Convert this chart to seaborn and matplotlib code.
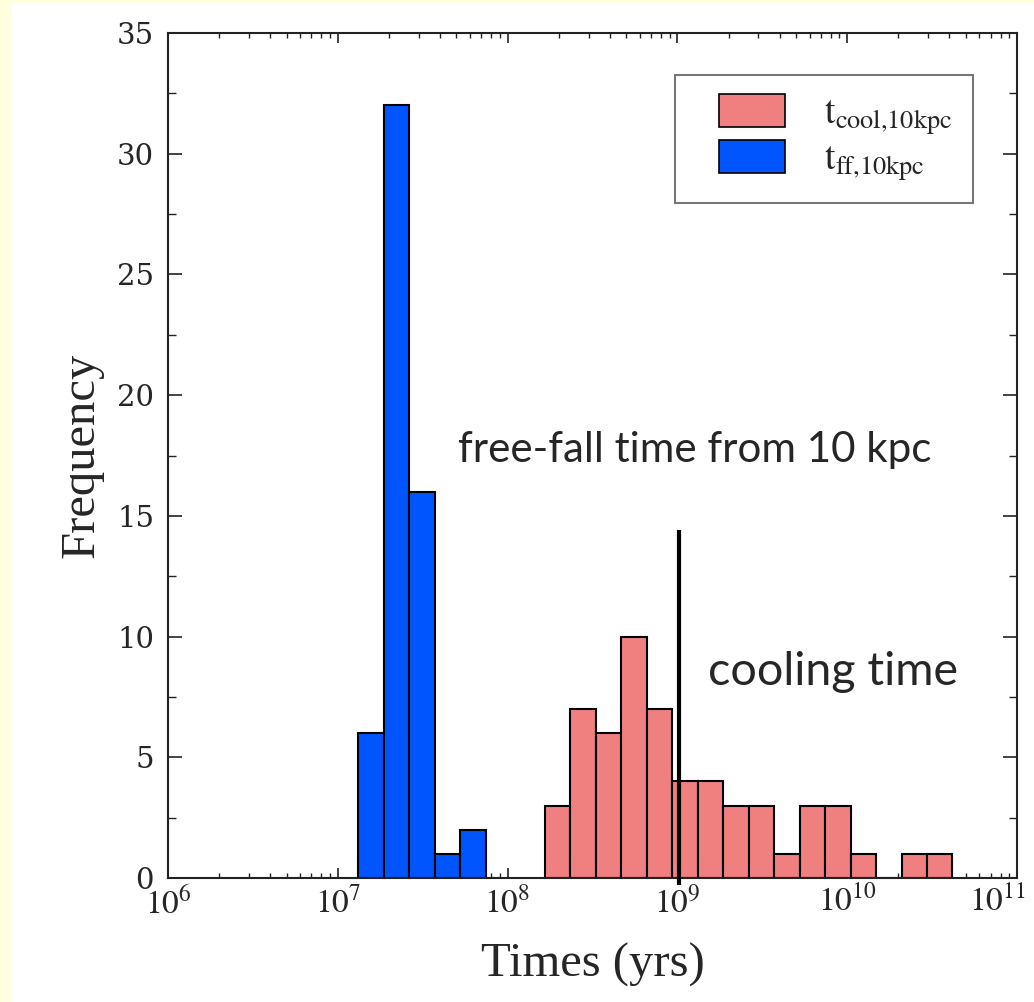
import numpy as np
import matplotlib
matplotlib.use("Agg")
import matplotlib.pyplot as plt
import matplotlib.transforms as mtransforms
import seaborn as sns
from matplotlib.patches import Rectangle, Patch
from matplotlib.legend_handler import HandlerPatch
from matplotlib.ticker import MultipleLocator, LogLocator, NullFormatter

# ---- data (log10 of time in yr for bin edges, counts per bin) ----
ff_edges_log = [7.12, 7.27, 7.42, 7.57, 7.72, 7.87]
ff_counts = [6, 32, 16, 1, 2]

cool_edges_log = [8.22, 8.37, 8.52, 8.67, 8.82, 8.97, 9.12, 9.27, 9.42,
                  9.57, 9.72, 9.87, 10.02, 10.17, 10.32, 10.47, 10.62]
cool_counts = [3, 7, 6, 10, 7, 4, 4, 3, 3, 1, 3, 3, 1, 0, 1, 1]

x_tick_values = [1e6, 1e7, 1e8, 1e9, 1e10, 1e11]
x_tick_labels = [r"$10^{6}$", r"$10^{7}$", r"$10^{8}$", r"$10^{9}$", r"$10^{10}$", r"$10^{11}$"]
y_tick_values = [0, 5, 10, 15, 20, 25, 30, 35]

cooling_time_marker = 1.02e9
legend_labels = [r"$\mathrm{t}_{\mathrm{cool{,}10kpc}}\enspace$", r"$\mathrm{t}_{\mathrm{ff{,}10kpc}}$"]
x_label = "Times (yrs)"
y_label = "Frequency"
ann_ff = "free-fall time from 10 kpc"
ann_cool = "cooling time"

pink = "#F08080"
blue = "#0055FF"

sns.set_style("ticks")
plt.rcParams["mathtext.fontset"] = "stix"
plt.rcParams["font.family"] = ["DejaVu Serif"]

fig = plt.figure(figsize=(10.34, 10.02), dpi=100)
fig.patch.set_facecolor("#FFFFE0")
fig.add_artist(Rectangle((12 / 1034, 0), 1, (1002 - 3) / 1002,
                         transform=fig.transFigure, facecolor="white",
                         edgecolor="none", zorder=-5))

ax = fig.add_axes([168 / 1034, (1002 - 878) / 1002, (1017 - 168) / 1034, (878 - 33) / 1002])


def centers(edges):
    e = np.asarray(edges)
    return 10 ** ((e[:-1] + e[1:]) / 2)


sns.histplot(x=centers(ff_edges_log), weights=ff_counts, bins=ff_edges_log,
             log_scale=True, color=blue, alpha=1, edgecolor="black",
             linewidth=1.5, ax=ax)
sns.histplot(x=centers(cool_edges_log), weights=cool_counts, bins=cool_edges_log,
             log_scale=True, color=pink, alpha=1, edgecolor="black",
             linewidth=1.5, ax=ax)

ax.set_xscale("log")
ax.set_xlim(1e6, 1e11)
ax.set_ylim(0, 35)

ax.plot([cooling_time_marker, cooling_time_marker], [-0.3, 14.4], color="black",
        lw=3, clip_on=False, solid_capstyle="butt", zorder=5)

# ticks
ax.set_xticks(x_tick_values)
ax.set_xticklabels(x_tick_labels)
ax.xaxis.set_minor_locator(LogLocator(base=10, subs=np.arange(2, 10), numticks=20))
ax.xaxis.set_minor_formatter(NullFormatter())
ax.set_yticks(y_tick_values)
ax.yaxis.set_minor_locator(MultipleLocator(2.5))
ax.tick_params(which="both", direction="in", top=True, right=True, color="#222222")
ax.tick_params(axis="x", which="major", length=7, width=1.2, labelsize=24, pad=6)
ax.tick_params(axis="x", which="minor", length=3.5, width=1.0)
ax.tick_params(axis="y", which="major", length=10, width=1.2, labelsize=21, pad=10)
ax.tick_params(axis="y", which="minor", length=5.5, width=1.0)
for lab in ax.get_yticklabels():
    lab.set_fontfamily("DejaVu Serif")
# the last x label sits a little inside the right edge, as in the original
last = ax.get_xticklabels()[-1]
last.set_transform(last.get_transform() + mtransforms.ScaledTranslation(-0.20, 0, fig.dpi_scale_trans))

for s in ax.spines.values():
    s.set_visible(True)
    s.set_linewidth(1.5)
    s.set_color("#222222")

ax.set_xlabel(x_label, fontsize=35, fontfamily="Liberation Serif", labelpad=16)
ax.set_ylabel(y_label, fontsize=35, fontfamily="Liberation Serif", labelpad=10)

# annotations
ax.text(10 ** 7.708, 17.23, ann_ff, fontsize=30.3, fontfamily="Lato", va="baseline", ha="left")
ax.text(10 ** 9.18, 8.0, ann_cool, fontsize=33.6, fontfamily="Lato", va="baseline", ha="left")


def make_rect(legend, orig_handle, xdescent, ydescent, width, height, fontsize):
    return Rectangle((-xdescent + 0.26 * width, -ydescent - 0.1 * height),
                     0.74 * width, 1.2 * height)


handles = [Patch(facecolor=pink, edgecolor="black", linewidth=1.2),
           Patch(facecolor=blue, edgecolor="black", linewidth=1.2)]
leg = ax.legend(handles, legend_labels, loc="upper right", bbox_to_anchor=(0.948, 0.950),
                borderaxespad=0, fontsize=27, frameon=True, fancybox=False,
                handlelength=2.37, handleheight=0.75, handletextpad=1.05,
                labelspacing=0.12, borderpad=0.55,
                handler_map={Patch: HandlerPatch(patch_func=make_rect)})
leg.get_frame().set_edgecolor("#555555")
leg.get_frame().set_linewidth(1.5)

fig.savefig("out.png", dpi=100)
